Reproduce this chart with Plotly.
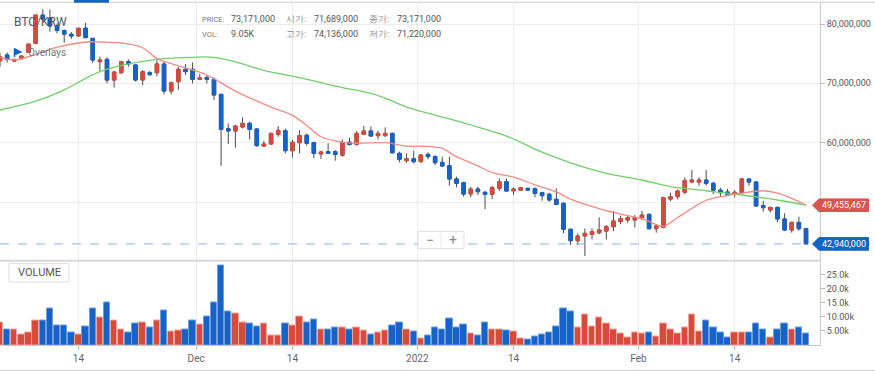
import numpy as np
import pandas as pd
import plotly.graph_objects as go

# ---------------- data (prices in millions KRW, volume in BTC) ----------------
dates = pd.date_range("2021-11-03", periods=114, freq="D")

open_m = [73.8, 74.78, 73.76, 74.15, 75.2, 76.74, 81.5, 80.96, 79.7, 78.9,
          78.26, 77.98, 79.3, 77.58, 73.65, 74.04, 70.56, 71.8, 73.65, 73.1,
          70.56, 71.8, 71.8, 73.26, 68.7, 70.28, 72.36, 72.36, 70.67, 71.0,
          70.67, 68.15, 62.36, 61.97, 62.64, 63.26, 62.3, 59.44, 59.78, 61.4,
          62.0, 58.65, 60.0, 61.24, 60.0, 58.1, 58.48, 58.5, 57.9, 60.1,
          59.72, 61.4, 61.97, 61.18, 61.18, 61.57, 58.2, 56.97, 57.3, 56.8,
          58.03, 57.64, 56.68, 56.1, 53.88, 53.26, 51.35, 52.19, 51.63, 51.3,
          52.3, 53.43, 51.9, 52.0, 52.3, 52.25, 51.57, 51.3, 50.45, 49.78,
          45.4, 43.48, 44.27, 44.55, 44.83, 45.1, 45.84, 46.69, 46.97, 46.97,
          47.36, 47.92, 45.5, 45.73, 50.5, 50.9, 51.63, 53.37, 53.37, 53.7,
          53.15, 52.0, 51.69, 51.3, 51.57, 53.88, 53.37, 49.4, 48.65, 49.1,
          47.14, 45.28, 46.57, 45.5]
high_m = [75.1, 75.2, 74.1, 74.7, 76.7, 81.6, 82.5, 82.47, 80.1, 79.1,
          78.65, 79.4, 80.2, 77.6, 74.5, 74.4, 72.1, 73.8, 74.04, 73.2,
          72.25, 72.1, 73.9, 73.65, 70.28, 72.8, 73.26, 73.5, 71.57, 71.4,
          71.0, 68.2, 63.26, 63.0, 64.27, 63.54, 62.5, 60.3, 61.7, 62.8,
          62.4, 60.45, 62.1, 61.57, 60.17, 58.65, 59.9, 58.76, 60.56, 60.84,
          61.97, 62.8, 62.7, 62.0, 62.58, 61.7, 58.48, 58.2, 58.65, 58.1,
          58.37, 57.92, 57.64, 57.64, 54.27, 53.43, 52.58, 52.58, 51.9, 52.7,
          53.99, 53.99, 52.47, 52.58, 52.47, 52.47, 51.74, 51.57, 52.3, 49.94,
          45.56, 44.7, 45.56, 45.56, 47.42, 46.12, 48.48, 47.7, 47.64, 47.8,
          48.54, 48.1, 46.24, 50.9, 51.57, 52.13, 54.16, 55.4, 54.16, 55.4,
          53.43, 52.4, 52.25, 52.0, 54.1, 53.93, 53.54, 50.22, 49.21, 49.21,
          48.1, 46.69, 47.53, 45.6]
low_m = [72.8, 73.5, 73.6, 74.0, 75.1, 76.6, 80.6, 78.7, 78.4, 76.85,
         77.5, 77.9, 77.6, 73.4, 72.1, 70.0, 69.3, 71.57, 72.8, 70.3,
         69.7, 71.3, 71.2, 68.15, 68.15, 68.9, 71.4, 70.0, 70.56, 70.0,
         67.2, 56.1, 59.78, 59.16, 62.4, 60.56, 59.33, 59.27, 59.6, 61.0,
         58.2, 57.47, 58.2, 59.5, 57.36, 57.25, 58.1, 56.97, 57.64, 59.5,
         59.5, 61.29, 61.0, 60.56, 61.0, 58.2, 56.7, 56.6, 56.5, 56.63,
         57.2, 56.2, 55.96, 52.75, 52.47, 50.9, 50.79, 51.18, 48.82, 50.5,
         51.85, 51.7, 51.18, 51.85, 51.85, 50.79, 50.22, 50.06, 49.49, 44.72,
         42.75, 42.75, 40.9, 43.7, 44.55, 43.7, 45.1, 46.24, 46.5, 45.73,
         46.97, 45.4, 44.83, 45.56, 50.17, 50.45, 51.29, 53.15, 52.75, 52.75,
         51.35, 50.9, 51.18, 50.79, 51.46, 52.75, 49.21, 48.37, 48.26, 46.63,
         45.1, 44.83, 45.17, 42.9]
close_m = [74.5, 74.04, 74.04, 74.6, 76.6, 81.5, 80.8, 79.66, 78.9, 78.3,
           77.98, 79.27, 77.7, 73.93, 73.93, 70.56, 71.9, 73.65, 73.26, 70.56,
           71.97, 71.46, 73.26, 68.7, 70.1, 72.36, 71.97, 70.67, 70.95, 70.67,
           68.03, 62.25, 61.97, 62.8, 63.26, 62.25, 59.5, 59.78, 61.57, 62.08,
           58.65, 60.06, 61.18, 59.9, 58.2, 58.43, 58.2, 58.0, 60.0, 59.7,
           61.57, 61.97, 61.12, 61.57, 61.57, 58.3, 57.2, 57.3, 56.8, 57.9,
           57.64, 56.63, 56.07, 53.88, 53.15, 51.35, 52.19, 51.74, 51.3, 52.4,
           53.43, 51.85, 52.19, 52.4, 52.0, 51.46, 51.07, 50.34, 49.6, 45.4,
           43.48, 44.27, 44.72, 45.0, 45.28, 45.84, 46.8, 47.19, 47.36, 47.36,
           47.8, 45.5, 45.96, 50.73, 50.9, 51.85, 53.6, 53.7, 53.7, 53.15,
           52.0, 51.57, 51.3, 51.63, 53.88, 53.37, 49.33, 49.04, 49.1, 47.14,
           45.28, 46.57, 45.5, 42.94]
volume_k = [7.86, 5.5, 5.5, 3.7, 4.3, 8.8, 8.8, 12.9, 7.0, 7.0,
            4.3, 3.7, 6.7, 12.9, 9.9, 15.2, 8.8, 5.5, 4.55, 7.6,
            8.2, 6.3, 8.8, 12.4, 4.7, 5.0, 5.7, 8.6, 7.3, 10.1,
            15.0, 28.5, 12.0, 11.4, 7.9, 7.5, 6.7, 7.6, 3.5, 3.5,
            7.5, 7.0, 10.2, 7.9, 9.0, 5.5, 5.7, 6.4, 6.3, 5.5,
            6.4, 5.1, 3.6, 4.3, 5.1, 7.0, 8.1, 5.5, 4.9, 2.3,
            3.4, 6.1, 5.7, 9.3, 6.1, 7.4, 4.0, 3.4, 7.9, 5.7,
            5.5, 5.1, 4.9, 2.3, 1.95, 2.9, 3.6, 4.55, 6.7, 13.1,
            12.0, 6.1, 10.8, 6.7, 9.9, 7.5, 5.4, 4.0, 2.5, 4.55,
            4.0, 4.55, 2.9, 7.5, 5.4, 4.0, 6.4, 10.8, 4.9, 8.9,
            6.1, 4.55, 2.5, 4.3, 4.55, 4.55, 7.5, 5.5, 2.5, 5.5,
            7.6, 5.5, 6.1, 4.0]

# moving averages (candle index, value in millions)
ma_short_idx = [0, 2, 5, 8, 12, 14, 17, 20, 22, 26, 29, 33, 38, 41, 43, 45, 48,
                50, 54, 57, 59, 62, 64, 67, 69, 72, 75, 78, 80, 84, 88, 90, 92,
                93, 95, 97, 99, 102, 104, 107, 109, 111, 113]
ma_short_m = [74.44, 73.95, 74.85, 76.1, 76.97, 76.97, 76.8, 76.0, 74.2, 72.6,
              71.4, 68.7, 66.0, 64.6, 62.9, 61.0, 60.1, 59.9, 60.0, 59.4, 59.4,
              59.05, 57.64, 56.1, 54.94, 54.2, 52.9, 51.7, 50.5, 48.9, 47.7,
              47.2, 46.2, 45.9, 47.4, 48.9, 50.3, 51.1, 51.5, 51.9, 51.5, 50.6,
              49.455467]
ma_long_idx = [0, 5, 9, 14, 19, 22, 27, 30, 33, 37, 42, 47, 52, 54, 57, 61, 66,
               71, 76, 80, 85, 90, 94, 99, 104, 109, 113]
ma_long_m = [65.5, 67.0, 68.9, 71.96, 73.5, 74.05, 74.39, 74.39, 73.6, 72.2,
             70.95, 69.55, 68.3, 67.5, 66.0, 64.66, 62.98, 61.12, 58.4, 56.6,
             54.84, 53.71, 52.6, 51.9, 51.18, 50.34, 49.49]

# the 50,000,000 label sits under the price tag in the reference
price_ticks = [50e6, 60e6, 70e6, 80e6]
price_tick_text = ["", "60,000,000", "70,000,000", "80,000,000"]
vol_ticks = [5000, 10000, 15000, 20000, 25000]
vol_tick_text = ["5.00k", "10.00k", "15.0k", "20.0k", "25.0k"]
date_ticks = ["2021-11-14", "2021-11-30 12:00", "2021-12-14", "2021-12-31 12:00",
              "2022-01-14", "2022-01-31 12:00", "2022-02-14"]
date_tick_text = ["14", "Dec", "14", "2022", "14", "Feb", "14"]

# ---------------- build ----------------
o = np.array(open_m) * 1e6
h = np.array(high_m) * 1e6
l = np.array(low_m) * 1e6
c = np.array(close_m) * 1e6
v = np.array(volume_k) * 1e3
body_hi = np.maximum(o, c)
body_lo = np.minimum(o, c)

RED = "#d64b3e"
BLUE = "#1662c7"
WICK = "#4a4a4a"
FONT = "Roboto"

W, H = 875, 372
ML, MR, MT, MB = 0, 55, 3, 27
PW = W - ML - MR
PH = H - MT - MB


def px(x):
    return (x - ML) / PW


def py(y):
    return (H - MB - y) / PH


vol_colors = [RED if cc >= oo else BLUE for oo, cc in zip(o, c)]
vol_lines = ["#f0a59d" if cc >= oo else "#6e9de0" for oo, cc in zip(o, c)]

fig = go.Figure()

# wicks
fig.add_trace(go.Candlestick(
    x=dates, open=o, high=h, low=l, close=c,
    increasing=dict(line=dict(color=WICK, width=1), fillcolor=WICK),
    decreasing=dict(line=dict(color=WICK, width=1), fillcolor=WICK),
    whiskerwidth=0, showlegend=False, xaxis="x", yaxis="y", hoverinfo="skip"))
# bodies
fig.add_trace(go.Candlestick(
    x=dates, open=o, high=body_hi, low=body_lo, close=c,
    increasing=dict(line=dict(color=RED, width=1), fillcolor=RED),
    decreasing=dict(line=dict(color=BLUE, width=1), fillcolor=BLUE),
    whiskerwidth=0, showlegend=False, xaxis="x", yaxis="y", hoverinfo="skip"))

fig.add_trace(go.Scatter(
    x=[dates[i] for i in ma_long_idx], y=np.array(ma_long_m) * 1e6,
    mode="lines", line=dict(color="#72cf6c", width=1.3, shape="spline"),
    showlegend=False, xaxis="x", yaxis="y", hoverinfo="skip"))
fig.add_trace(go.Scatter(
    x=[dates[i] for i in ma_short_idx], y=np.array(ma_short_m) * 1e6,
    mode="lines", line=dict(color="#f08b82", width=1.3, shape="spline"),
    showlegend=False, xaxis="x", yaxis="y", hoverinfo="skip"))

fig.add_trace(go.Bar(
    x=dates, y=v, width=0.9 * 86400000,
    marker=dict(color=vol_colors, line=dict(color=vol_lines, width=1)),
    showlegend=False, xaxis="x2", yaxis="y2", hoverinfo="skip"))

x_start = pd.Timestamp("2021-11-03")
x_end = x_start + pd.Timedelta(days=114.96)

main_bottom = py(260.7)
vol_top = py(261.5)

grid = "#ececec"
axis_line = "#c8c8c8"
tick_font = dict(family=FONT, size=9, color="#555")

fig.update_layout(
    width=W, height=H,
    margin=dict(l=ML, r=MR, t=MT, b=MB),
    paper_bgcolor="white", plot_bgcolor="white",
    hovermode=False,
    font=dict(family=FONT, color="#555"),
    xaxis=dict(domain=[0, 1], anchor="y", range=[x_start, x_end], type="date",
               tickvals=date_ticks, ticktext=date_tick_text, showticklabels=False,
               showgrid=True, gridcolor=grid, gridwidth=1, ticks="",
               rangeslider=dict(visible=False), zeroline=False, showline=False),
    yaxis=dict(domain=[main_bottom, 1], anchor="x", side="right",
               range=[40.11e6, 83.54e6], tickvals=price_ticks, ticktext=price_tick_text,
               showgrid=True, gridcolor=grid, ticks="outside", ticklen=4,
               tickcolor="#bbb", showline=True, linecolor=axis_line,
               tickfont=tick_font, zeroline=False),
    xaxis2=dict(domain=[0, 1], anchor="y2", matches="x", type="date",
                tickvals=date_ticks, ticktext=date_tick_text,
                showgrid=True, gridcolor=grid, ticks="outside", ticklen=4,
                tickcolor="#bbb", showline=True, linecolor=axis_line,
                tickfont=dict(family=FONT, size=10, color="#666"), zeroline=False),
    yaxis2=dict(domain=[0, vol_top], anchor="x2", side="right",
                range=[0, 29800], tickvals=vol_ticks, ticktext=vol_tick_text,
                showgrid=False, ticks="outside", ticklen=4, tickcolor="#bbb",
                showline=True, linecolor=axis_line, tickfont=tick_font,
                zeroline=False),
    bargap=0,
)

shapes = []
# pane separator
shapes.append(dict(type="line", xref="paper", yref="paper", x0=0, x1=1,
                   y0=py(260.8), y1=py(260.8), line=dict(color="#d8d8d8", width=2)))
# top border and blue tab
shapes.append(dict(type="line", xref="paper", yref="paper", x0=0, x1=px(W),
                   y0=py(2.2), y1=py(2.2), line=dict(color="#dddddd", width=1.5)))
shapes.append(dict(type="rect", xref="paper", yref="paper", x0=px(74), x1=px(109),
                   y0=py(2.8), y1=py(0), fillcolor="#1565c0", line=dict(width=0)))
# bottom border
shapes.append(dict(type="line", xref="paper", yref="paper", x0=0, x1=px(W),
                   y0=py(370.5), y1=py(370.5), line=dict(color="#dddddd", width=1.5)))
# last-close dashed line
shapes.append(dict(type="line", xref="x", yref="y", x0=dates[0], x1=dates[-1],
                   y0=c[-1], y1=c[-1], line=dict(color="#8db3e6", width=1, dash="dash")))
# zoom control box
shapes.append(dict(type="rect", xref="paper", yref="paper", x0=px(418), x1=px(464),
                   y0=py(248.5), y1=py(231.5), fillcolor="white",
                   line=dict(color="#e2e2e2", width=1)))
shapes.append(dict(type="line", xref="paper", yref="paper", x0=px(441), x1=px(441),
                   y0=py(247), y1=py(233), line=dict(color="#ececec", width=1)))
# VOLUME box
shapes.append(dict(type="rect", xref="paper", yref="paper", x0=px(9), x1=px(69),
                   y0=py(282), y1=py(263.5), fillcolor="white",
                   line=dict(color="#e0e0e0", width=1)))
# Overlays flag
shapes.append(dict(type="path", xref="paper", yref="paper",
                   path=f"M {px(14.5)},{py(48.5)} L {px(21.5)},{py(52)} L {px(14.5)},{py(55)} Z",
                   fillcolor="#1565c0", line=dict(color="#1565c0", width=1)))
shapes.append(dict(type="line", xref="paper", yref="paper", x0=px(14.5), x1=px(14.5),
                   y0=py(48.5), y1=py(57), line=dict(color="#1565c0", width=1.5)))


# price tags
def tag(value, color):
    hh = 6.3 / (PH * (1 - main_bottom)) * (83.54e6 - 40.11e6)
    path = (f"M {px(812.5)},{value} L {px(819)},{value + hh} L {px(868.5)},{value + hh} "
            f"L {px(868.5)},{value - hh} L {px(819)},{value - hh} Z")
    shapes.append(dict(type="path", xref="paper", yref="y", path=path,
                       fillcolor=color, line=dict(color=color, width=1), layer="above"))


tag(ma_short_m[-1] * 1e6, "#d9534f")
tag(c[-1], "#1565c0")

annotations = []


def text(x, y, s, size=9, color="#555", xanchor="left", yref="paper", **kw):
    annotations.append(dict(x=px(x), y=py(y) if yref == "paper" else y, xref="paper",
                            yref=yref, text=s, showarrow=False, xanchor=xanchor,
                            yanchor="middle", font=dict(family=FONT, size=size, color=color),
                            **kw))


text(12, 21.7, "BTC/KRW", size=12, color="#555")
text(26, 52.7, "Overlays", size=10, color="#777")

text(199.5, 19.3, "PRICE:", size=7.5, color="#777")
text(229, 19.3, "73,171,000", size=9, color="#555")
text(283.5, 19.3, "시가:", size=8.5, color="#888")
text(311.5, 19.3, "71,689,000", size=9, color="#555")
text(366.5, 19.3, "종가:", size=8.5, color="#888")
text(395, 19.3, "73,171,000", size=9, color="#555")
text(199.5, 34.3, "VOL:", size=7.5, color="#777")
text(229, 34.3, "9.05K", size=9, color="#555")
text(283.5, 34.3, "고가:", size=8.5, color="#888")
text(311.5, 34.3, "74,136,000", size=9, color="#555")
text(366.5, 34.3, "저가:", size=8.5, color="#888")
text(395, 34.3, "71,220,000", size=9, color="#555")

text(39, 272.8, "VOLUME", size=11, color="#555", xanchor="center")

text(429.5, 240, "−", size=14, color="#888", xanchor="center")
text(452.5, 240, "+", size=14, color="#888", xanchor="center")

text(844, ma_short_m[-1] * 1e6, "49,455,467", size=9, color="white",
     xanchor="center", yref="y")
text(844, c[-1], f"{int(round(c[-1])):,}", size=9, color="white",
     xanchor="center", yref="y")

fig.update_layout(shapes=shapes, annotations=annotations)

fig.write_html(
    "out.html",
    config={"displayModeBar": False},
    post_script="document.body.style.margin='0';document.body.style.overflow='hidden';",
)
